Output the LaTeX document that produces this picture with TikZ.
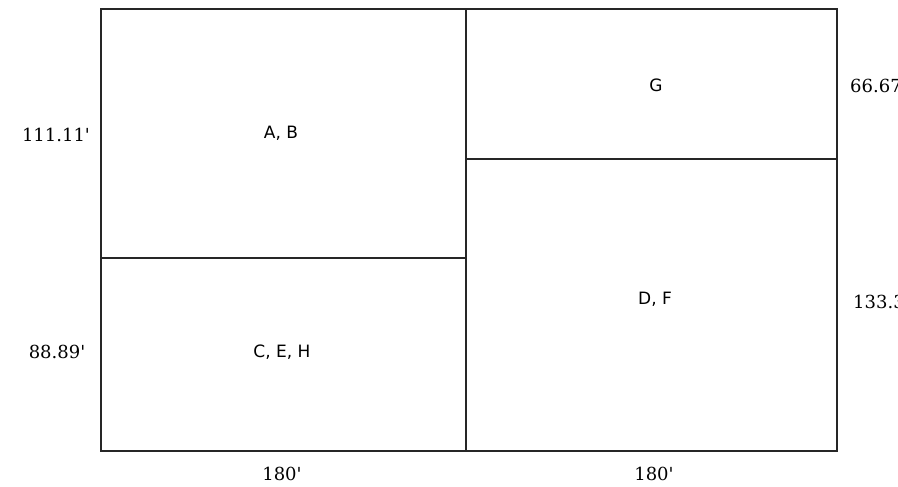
\documentclass[tikz,border=0pt]{standalone}
\usepackage{fontspec}
\setmainfont{DejaVu Serif}
\setsansfont{DejaVu Sans}
\usepackage{tikz}
\tikzstyle{lot}=[draw=black!85,line width=1.6pt]
\tikzstyle{dim}=[inner sep=0pt,font=\fontsize{18}{18}\selectfont]
\tikzstyle{use}=[inner sep=0pt,font=\sffamily\fontsize{17}{17}\selectfont]
\newcommand{\ft}{\textquotesingle}

\begin{document}
\begin{tikzpicture}[x=1pt,y=-1pt]
  \useasboundingbox (0,0) rectangle (898,487);
  % outline and divisions
  \draw[lot] (101,9) rectangle (837,451);
  \draw[lot] (466,9) -- (466,451);
  \draw[lot] (101,258) -- (466,258);
  \draw[lot] (466,159) -- (837,159);
  % uses
  \foreach \name/\x/\y/\text in {AB/281/133/{A, B}, CEH/282/352/{C, E, H},
                                 G/656/85/G, DF/655/299/{D, F}}
    \node[use] (\name) at (\x,\y) {\text};
  % dimensions
  \node[dim] (L-top) at (56,135) {111.11\ft};
  \node[dim] (L-bot) at (57,352) {88.89\ft};
  \node[dim,anchor=west] (R-top) at (850,86) {66.67\ft};
  \node[dim,anchor=west] (R-bot) at (853,302) {133.33\ft};
  \node[dim] (B-left) at (282,474) {180\ft};
  \node[dim] (B-right) at (654,474) {180\ft};
\end{tikzpicture}
\end{document}
